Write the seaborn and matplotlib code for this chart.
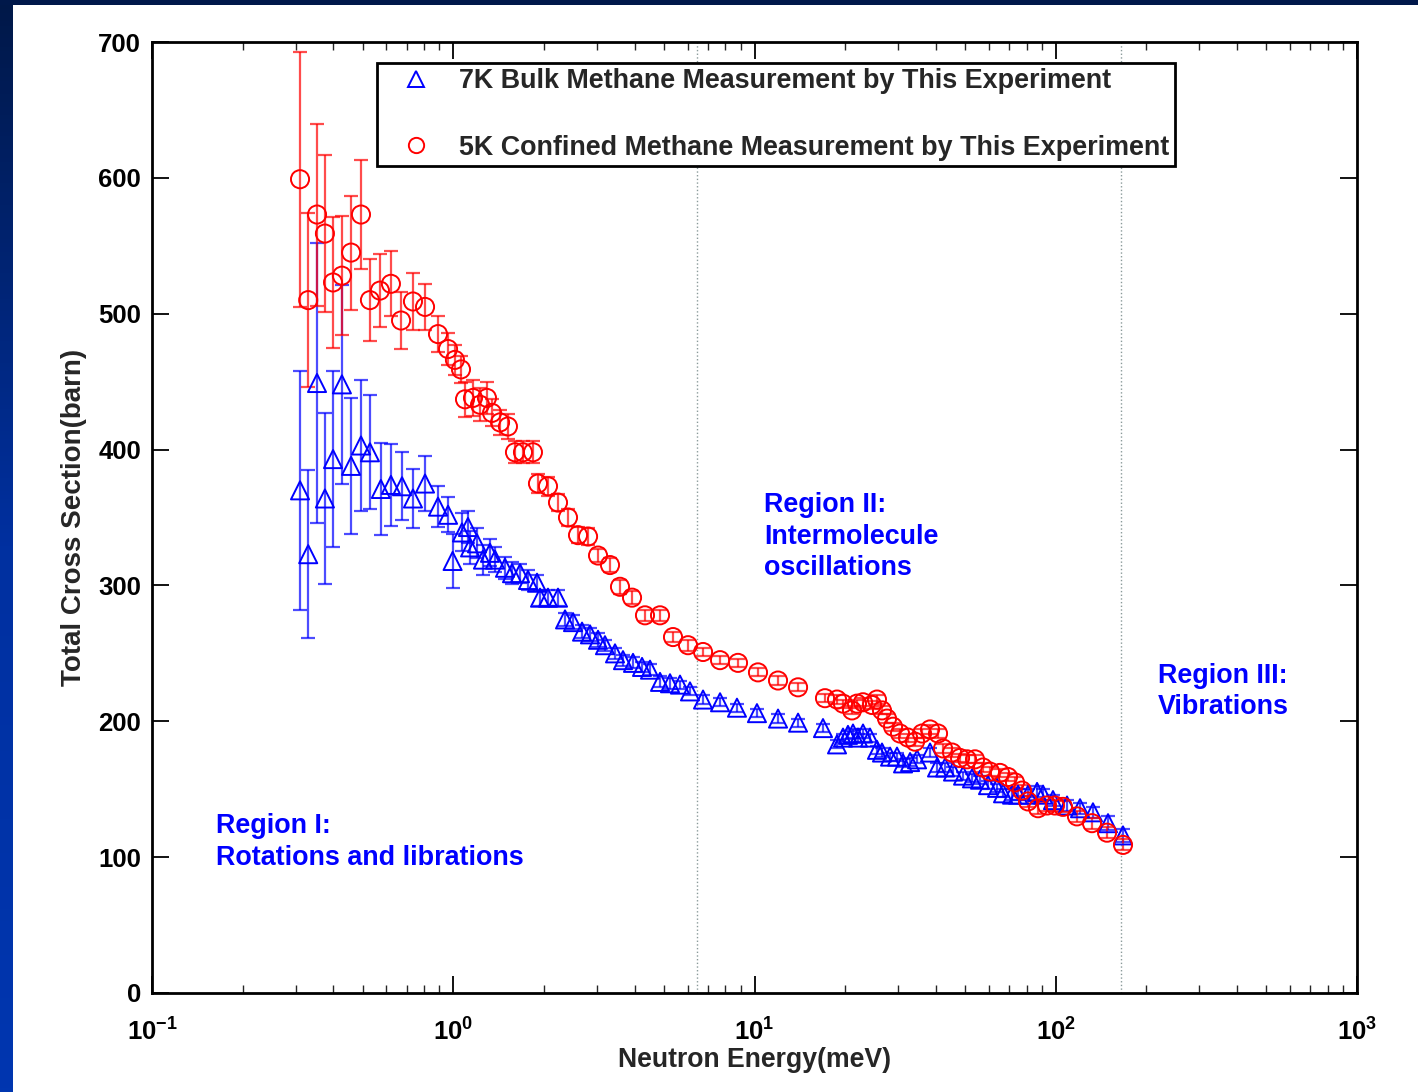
import matplotlib
matplotlib.use('Agg')
import numpy as np
import pandas as pd
import matplotlib.pyplot as plt
import seaborn as sns
from matplotlib.lines import Line2D
from matplotlib.ticker import LogLocator, NullFormatter, FixedLocator
from matplotlib.colors import LinearSegmentedColormap

# ---------------- data ----------------
bulk_energy = [0.310, 0.330, 0.353, 0.375, 0.399, 0.427, 0.458, 0.494, 0.529, 0.575,
               0.621, 0.676, 0.735, 0.806, 0.890, 0.961, 0.995, 1.069, 1.119, 1.137,
               1.199, 1.255, 1.324, 1.376, 1.485, 1.567, 1.666, 1.771, 1.897, 1.941,
               2.063, 2.227, 2.350, 2.498, 2.676, 2.844, 3.024, 3.189, 3.443, 3.660,
               3.951, 4.233, 4.499, 4.857, 5.242, 5.658, 6.107, 6.748, 7.684, 8.746,
               10.19, 11.97, 13.95, 16.88, 18.79, 19.67, 20.43, 21.23, 22.06, 22.92,
               24.18, 25.50, 26.50, 28.18, 29.72, 31.12, 32.84, 34.64, 38.25, 40.35,
               42.91, 45.60, 49.24, 52.72, 56.05, 59.59, 63.83, 66.83, 71.60, 74.96,
               80.90, 86.69, 90.74, 97.9, 109.0, 120.4, 132.9, 149.1, 167.2]
bulk_xs = [370, 323, 449, 364, 393, 448, 388, 403, 398, 371,
           374, 373, 364, 375, 358, 352, 318, 339, 343, 328,
           331, 319, 324, 319, 313, 309, 309, 304, 302, 291,
           291, 291, 275, 273, 266, 264, 260, 256, 250, 245,
           243, 240, 238, 229, 228, 227, 222, 216, 214, 210,
           206, 202, 199, 195, 183, 188, 190, 191, 188, 191,
           188, 179, 177, 174, 174, 169, 170, 172, 177, 166,
           166, 163, 160, 158, 157, 153, 151, 147, 146, 146,
           146, 148, 146, 142, 138, 136, 133, 125, 116]
bulk_err = [88, 62, 103, 63, 65, 73, 50, 48, 42, 34,
            30, 25, 22, 20, 15, 13, 20, 14, 12, 12,
            11, 11, 10, 9, 8, 8, 7, 7, 6, 6,
            6, 6, 5, 5, 5, 5, 5, 4, 4, 4,
            4, 4, 4, 4, 4, 3, 3, 3, 3, 3,
            3, 3, 3, 3, 3, 3, 3, 3, 3, 3,
            3, 3, 3, 3, 3, 3, 3, 3, 3, 3,
            3, 3, 3, 3, 3, 3, 3, 3, 4, 4,
            4, 4, 4, 4, 4, 4, 4, 5, 5]

conf_energy = [0.310, 0.330, 0.353, 0.375, 0.399, 0.427, 0.458, 0.494, 0.529, 0.571,
               0.621, 0.671, 0.735, 0.806, 0.890, 0.961, 1.013, 1.061, 1.094, 1.163,
               1.227, 1.294, 1.345, 1.430, 1.519, 1.603, 1.704, 1.839, 1.911, 2.063,
               2.227, 2.404, 2.595, 2.802, 3.024, 3.314, 3.577, 3.922, 4.330, 4.857,
               5.364, 6.016, 6.748, 7.684, 8.815, 10.27, 11.97, 13.95, 17.14, 18.79,
               19.67, 21.07, 21.89, 22.92, 24.55, 25.50, 26.50, 27.53, 28.83, 30.41,
               32.33, 34.11, 35.98, 38.25, 40.66, 42.25, 45.27, 48.12, 50.76, 53.95,
               57.35, 60.49, 65.30, 69.43, 73.24, 77.27, 80.90, 87.33, 93.54, 99.4,
               105.7, 117.6, 131.9, 148.0, 167.2]
conf_xs = [599, 510, 573, 559, 523, 528, 545, 573, 510, 517,
           522, 495, 509, 505, 485, 474, 466, 459, 437, 438,
           433, 438, 427, 420, 417, 398, 398, 398, 375, 373,
           361, 350, 337, 336, 322, 315, 299, 291, 278, 278,
           262, 256, 251, 245, 243, 236, 230, 225, 217, 216,
           213, 208, 213, 214, 212, 216, 208, 202, 196, 191,
           188, 185, 191, 194, 191, 180, 177, 173, 172, 172,
           166, 163, 162, 159, 155, 149, 141, 136, 138, 138,
           137, 130, 125, 118, 109]
conf_err = [94, 64, 67, 58, 48, 44, 42, 40, 30, 27,
            24, 21, 21, 17, 13, 12, 11, 10, 13, 13,
            12, 12, 10, 9, 9, 8, 8, 8, 7, 7,
            6, 6, 6, 6, 5, 5, 5, 5, 4, 4,
            4, 4, 3, 3, 3, 3, 3, 3, 3, 3,
            3, 3, 3, 3, 3, 3, 3, 3, 3, 3,
            3, 3, 3, 3, 3, 3, 3, 3, 3, 3,
            3, 3, 3, 3, 4, 4, 4, 4, 4, 4,
            4, 4, 4, 4, 4]

legend_labels = ["7K Bulk Methane Measurement by This Experiment",
                 "5K Confined Methane Measurement by This Experiment"]
region_bounds = [6.45, 165.0]
region_texts = ["Region I:\nRotations and librations",
                "Region II:\nIntermolecule\noscillations",
                "Region III:\nVibrations"]
region_pos = [(0.163, 111), (10.75, 336), (218.5, 222)]
y_ticks = [0, 100, 200, 300, 400, 500, 600, 700]

bulk = pd.DataFrame({"E": bulk_energy, "xs": bulk_xs, "err": bulk_err})
conf = pd.DataFrame({"E": conf_energy, "xs": conf_xs, "err": conf_err})

# ---------------- style ----------------
sns.set_theme(style="ticks")
plt.rcParams['font.family'] = ['Liberation Sans', 'DejaVu Sans']
plt.rcParams['font.weight'] = 'bold'
plt.rcParams['mathtext.fontset'] = 'custom'
plt.rcParams['mathtext.rm'] = 'Liberation Sans:bold'
plt.rcParams['mathtext.it'] = 'Liberation Sans:bold'
plt.rcParams['mathtext.bf'] = 'Liberation Sans:bold'
plt.rcParams['mathtext.default'] = 'rm'

FS_TICK = 18.5
FS_TXT = 19.4
fig = plt.figure(figsize=(14.18, 10.92), dpi=100)
fig.patch.set_facecolor('white')

# slide background strips
strip = fig.add_axes([0, 0, 12/1418, 1])
grad = np.linspace(0, 1, 256).reshape(-1, 1)
cm = LinearSegmentedColormap.from_list('bg', ['#001848', '#0030a0', '#0036b0'])
strip.imshow(grad, aspect='auto', cmap=cm, extent=[0, 1, 0, 1], origin='upper')
strip.set_axis_off()
top = fig.add_axes([0, 1 - 5/1092, 1, 5/1092])
top.set_facecolor('#00184a')
top.set_xticks([]); top.set_yticks([])
for s in top.spines.values():
    s.set_visible(False)

ax = fig.add_axes([152/1418, 99/1092, 1205/1418, 951/1092])
ax.set_xscale('log')

# error bars
ax.errorbar(bulk["E"], bulk["xs"], yerr=bulk["err"], fmt='none', ecolor='#0000ff',
            elinewidth=1.6, capsize=5, capthick=1.6, alpha=0.7, zorder=2)
ax.errorbar(conf["E"], conf["xs"], yerr=conf["err"], fmt='none', ecolor='#ff0000',
            elinewidth=1.6, capsize=5, capthick=1.6, alpha=0.7, zorder=3)

# markers
sns.scatterplot(data=bulk, x="E", y="xs", ax=ax, marker='^', s=170,
                facecolor='none', edgecolor='#0000ff', linewidth=1.4, zorder=4, legend=False)
sns.scatterplot(data=conf, x="E", y="xs", ax=ax, marker='o', s=170,
                facecolor='none', edgecolor='#ff0000', linewidth=1.4, zorder=5, legend=False)

for b in region_bounds:
    ax.axvline(b, color='#8a9a9a', linestyle=':', linewidth=1.0, zorder=1)

for txt, (xx, yy) in zip(region_texts, region_pos):
    ax.text(xx, yy, txt, color='#0000ff', fontsize=FS_TXT, fontweight='bold',
            ha='left', va='center', linespacing=1.28)

ax.set_xlim(0.1, 1000)
ax.set_ylim(0, 700)
ax.yaxis.set_major_locator(FixedLocator(y_ticks))
ax.xaxis.set_major_locator(LogLocator(base=10, numticks=10))
ax.xaxis.set_minor_locator(LogLocator(base=10, subs=np.arange(2, 10), numticks=20))
ax.xaxis.set_minor_formatter(NullFormatter())

ax.tick_params(axis='both', which='major', direction='in', length=12, width=1.3,
               top=True, right=True, labelsize=FS_TICK, colors='black')
ax.tick_params(axis='y', which='major', pad=8)
ax.tick_params(axis='x', which='major', pad=18)
ax.tick_params(axis='x', which='minor', direction='in', length=6, width=1.0,
               top=True, bottom=True)
for lab in ax.get_xticklabels() + ax.get_yticklabels():
    lab.set_fontweight('bold')
for s in ax.spines.values():
    s.set_linewidth(2.0)
    s.set_color('black')
    s.set_visible(True)

ax.set_xlabel("Neutron Energy(meV)", fontsize=19.2, fontweight='bold', labelpad=1)
ax.set_ylabel("Total Cross Section(barn)", fontsize=20, fontweight='bold', labelpad=8)

handles = [Line2D([], [], marker='^', linestyle='none', markersize=11, mfc='none',
                  mec='#0000ff', mew=1.4),
           Line2D([], [], marker='o', linestyle='none', markersize=11, mfc='none',
                  mec='#ff0000', mew=1.4)]
leg = ax.legend(handles, legend_labels, loc='upper left',
                bbox_to_anchor=((377-152)/1205, (993-63)/951), borderaxespad=0,
                fontsize=FS_TXT, frameon=True, fancybox=False, framealpha=1,
                edgecolor='black', borderpad=0.2, labelspacing=1.5,
                handlelength=2.5, handletextpad=0.35)
leg.get_frame().set_linewidth(2.0)
for t in leg.get_texts():
    t.set_fontweight('bold')

fig.savefig('out.png', dpi=100, facecolor='white')
